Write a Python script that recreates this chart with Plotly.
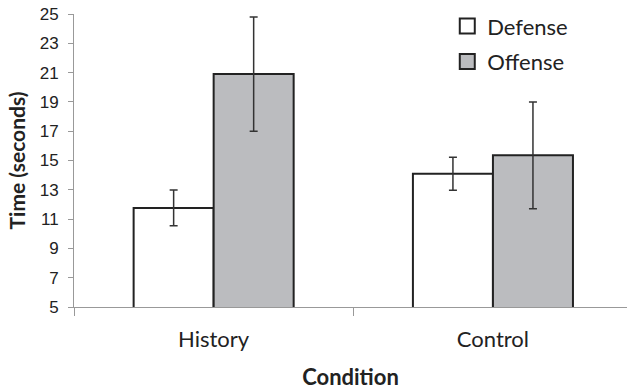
import plotly.graph_objects as go

conditions = ["History", "Control"]
defense = [11.76, 14.1]
offense = [20.9, 15.35]
defense_err = [1.22, 1.13]
offense_err = [3.9, 3.64]
y_ticks = [5, 7, 9, 11, 13, 15, 17, 19, 21, 23, 25]

fig = go.Figure()
fig.add_trace(go.Bar(
    name="Defense", x=conditions, y=defense, showlegend=False,
    marker=dict(color="white", line=dict(color="#222222", width=2)),
    error_y=dict(type="data", array=defense_err, color="#333333", thickness=1.5, width=4),
))
fig.add_trace(go.Bar(
    name="Offense", x=conditions, y=offense, showlegend=False,
    marker=dict(color="#BBBCBF", line=dict(color="#222222", width=2)),
    error_y=dict(type="data", array=offense_err, color="#333333", thickness=1.5, width=4),
))
# legend entries with larger square swatches
fig.add_trace(go.Scatter(
    name="Defense", x=[None], y=[None], mode="markers", legendgroup="d",
    marker=dict(symbol="square", size=15, color="white", line=dict(color="#222222", width=2)),
))
fig.add_trace(go.Scatter(
    name="Offense", x=[None], y=[None], mode="markers", legendgroup="o",
    marker=dict(symbol="square", size=15, color="#BBBCBF", line=dict(color="#222222", width=2)),
))

fig.update_layout(
    width=627, height=390,
    margin=dict(l=74, r=0, t=14, b=83, autoexpand=False),
    paper_bgcolor="white", plot_bgcolor="white",
    barmode="group", bargap=0.427, bargroupgap=0,
    font=dict(family="Lato, Liberation Sans, sans-serif", color="#222222"),
    legend=dict(x=0.675, y=1.03, xanchor="left", yanchor="top",
                font=dict(size=22, family="Lato", color="#222222"), bgcolor="rgba(0,0,0,0)",
                tracegroupgap=4, itemwidth=30),
    showlegend=True,
)
fig.update_yaxes(
    range=[5, 25], tickvals=y_ticks, showgrid=False, zeroline=False,
    showline=True, linecolor="#999999", linewidth=1, automargin=False,
    ticks="outside", ticklen=5, tickcolor="#999999", ticklabelstandoff=6,
    ticklabeloverflow="allow",
    tickfont=dict(family="Liberation Sans", size=17, color="#222222"),
    title=dict(text="<b>Time (seconds)</b>", font=dict(family="Lato", size=21), standoff=8),
)
fig.update_xaxes(
    range=[-0.5, 1.48], automargin=False,
    showgrid=False, showline=True, linecolor="#999999", linewidth=1,
    ticks="outside", tickson="boundaries", ticklen=8, tickcolor="#999999",
    ticklabelstandoff=13,
    tickfont=dict(family="Lato", size=22, color="#222222"),
    title=dict(text="<b>Condition</b>", font=dict(family="Lato", size=22), standoff=19),
)

# remove the default page margin so the figure sits at the window's top-left corner
fig.write_html("out.html", config={"displayModeBar": False},
               post_script="document.body.style.margin='0';")
